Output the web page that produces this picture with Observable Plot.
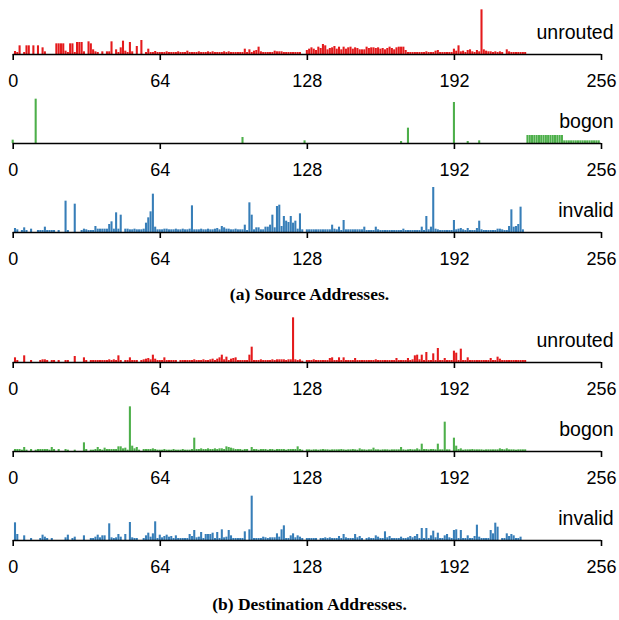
<!DOCTYPE html>
<html>
<head>
<meta charset="utf-8">
<script src="https://cdn.jsdelivr.net/npm/d3@7"></script>
<script src="https://cdn.jsdelivr.net/npm/@observablehq/plot@0.6"></script>
<style>
  html, body { margin: 0; padding: 0; background: #fff; }
  #root { position: relative; width: 619px; height: 620px; overflow: hidden; }
  .panel { position: absolute; left: 0; }
  .caption { position: absolute; left: 0; width: 619px; text-align: center;
    font-family: "Liberation Serif", "DejaVu Serif", serif; font-weight: bold; font-size: 17.5px; color: #000; }
</style>
</head>
<body>
<div id="root"></div>
<script>
// Tick labels for the /8 address space axis
const tickValues = [0, 64, 128, 192, 256];
const seriesColors = { unrouted: "#e41a1c", bogon: "#4daf4a", invalid: "#377eb8" };
const captions = ["(a) Source Addresses.", "(b) Destination Addresses."];

// Relative packet counts per /8 prefix (index = first octet)
const srcUnrouted = [
  0,9,6,26,0,6,26,26,0,26,0,26,0,20,8,0,
  0,0,0,32,32,32,32,10,6,32,32,6,36,36,36,8,
  0,38,32,14,8,6,0,8,0,8,8,38,0,14,6,20,
  40,10,6,36,8,0,24,0,42,0,6,16,6,6,9,6,
  6,6,6,8,6,6,6,6,8,6,6,6,10,6,6,6,
  6,8,6,6,6,8,6,8,6,6,6,6,8,6,8,6,
  6,6,6,6,6,16,6,14,6,10,12,22,8,6,6,6,
  6,6,10,8,8,8,6,6,6,6,6,6,6,6,0,0,
  12,16,20,16,12,22,18,30,26,14,18,20,24,16,22,14,
  22,16,20,22,16,20,18,14,14,14,22,18,20,20,18,20,
  16,18,14,18,22,18,14,20,22,22,22,12,6,6,6,6,
  6,6,6,6,8,6,6,6,10,12,6,6,6,6,6,6,
  16,10,26,8,10,6,12,14,8,6,12,8,134,14,10,8,
  8,6,8,6,8,6,0,14,8,6,6,6,6,6,6,6
];
const srcBogon = [
  10,0,0,0,0,0,0,0,0,0,133,0,0,0,0,0,
  0,0,0,0,0,0,0,0,0,0,0,0,0,0,0,0,
  0,0,0,0,0,0,0,0,0,0,0,0,0,0,0,0,
  0,0,0,0,0,0,0,0,0,0,0,0,0,0,0,0,
  0,0,0,0,0,0,0,0,0,0,0,0,0,0,0,0,
  0,0,0,0,0,0,0,0,0,0,0,0,0,0,0,0,
  0,0,0,0,18,0,0,0,0,0,0,0,0,0,0,0,
  0,0,0,0,0,0,0,0,0,0,0,0,0,0,0,8,
  0,0,0,0,0,0,0,0,0,0,0,0,0,0,0,0,
  0,0,0,0,0,0,0,0,0,0,0,0,0,0,0,0,
  0,0,0,0,0,0,0,0,0,6,0,0,46,0,0,0,
  0,0,0,0,0,0,0,0,0,0,0,0,0,0,0,0,
  123,0,0,0,0,0,6,0,0,0,0,8,0,0,0,0,
  0,0,0,0,0,0,0,0,0,0,0,0,0,0,0,0,
  24,24,24,24,24,24,24,24,24,24,24,24,24,24,24,24,
  8,8,8,8,8,8,8,8,8,8,8,8,8,8,8,8
];
const srcInvalid = [
  0,12,8,0,6,14,6,0,10,0,0,6,6,6,16,6,
  6,6,6,0,6,0,0,94,6,0,0,85,0,0,6,10,
  8,6,6,6,18,10,10,10,10,10,24,32,10,59,10,52,
  0,10,10,8,8,10,8,8,8,10,28,44,62,115,16,8,
  8,8,10,10,8,8,8,10,8,8,10,8,8,10,80,8,
  8,8,10,8,8,10,8,8,10,12,8,18,14,10,10,8,
  8,10,8,8,8,22,6,89,52,8,14,14,8,8,16,16,
  22,52,14,78,82,18,48,34,30,48,28,34,10,56,8,0,
  8,8,8,8,8,8,8,8,8,8,8,22,10,8,16,6,
  36,8,8,8,8,8,8,8,8,16,6,6,6,6,16,8,
  6,6,6,6,6,6,6,6,6,6,10,6,6,6,6,6,
  6,6,16,6,48,8,16,135,10,8,6,6,6,6,6,6,
  36,8,10,12,8,6,12,6,6,6,12,34,8,6,6,6,
  6,6,6,10,10,8,6,6,18,68,16,18,24,76,8,0
];
const dstUnrouted = [
  0,14,6,0,0,20,0,0,6,0,0,0,6,8,8,6,
  0,6,6,0,6,0,0,6,6,0,0,18,0,0,0,14,
  6,0,6,6,6,6,6,6,6,6,8,6,8,6,20,6,
  0,6,6,14,6,6,6,0,6,8,10,12,8,22,10,6,
  6,6,14,6,6,6,6,6,0,6,6,6,6,6,6,8,
  6,6,6,8,6,6,8,10,6,10,14,22,8,16,6,10,
  12,14,6,6,6,6,6,22,46,6,6,6,8,6,6,6,
  6,8,6,8,8,8,8,6,8,8,134,8,6,8,4,0,
  6,6,6,8,6,6,6,6,6,6,12,14,6,6,14,6,
  14,6,6,6,6,12,6,6,6,6,6,6,6,6,8,6,
  6,6,6,6,6,6,6,12,6,6,6,6,12,6,8,20,
  22,8,22,6,30,6,6,26,6,42,6,6,12,6,6,6,
  34,28,6,40,6,6,14,6,6,6,6,6,6,6,6,6,
  12,6,6,16,10,6,6,6,6,6,6,6,6,6,6,6
];
const dstBogon = [
  0,6,6,6,4,12,4,0,6,0,4,6,6,6,6,6,
  4,12,6,0,6,0,0,6,4,0,0,4,0,0,0,26,
  6,0,4,4,6,12,6,4,10,6,6,6,6,6,14,14,
  8,10,4,134,16,8,12,4,0,6,6,6,6,8,6,4,
  4,4,6,4,4,4,6,4,4,4,6,4,4,4,6,40,
  6,6,8,6,6,8,6,6,8,6,8,8,6,14,12,10,
  8,6,6,6,4,6,6,0,12,6,6,4,6,6,6,4,
  6,6,4,6,6,6,6,4,6,6,6,6,14,6,4,0,
  5,5,4,5,5,4,5,6,5,5,4,5,5,5,5,6,
  5,4,5,5,6,5,4,8,5,5,4,5,5,10,5,5,
  4,5,5,5,4,5,5,5,5,12,5,4,5,6,5,5,
  8,5,22,6,6,5,6,6,5,22,5,5,88,5,5,0,
  40,16,6,8,4,5,5,5,6,5,5,5,5,4,5,5,
  5,5,5,5,8,6,5,8,5,5,5,4,5,5,5,5
];
const dstInvalid = [
  0,53,18,0,0,14,0,0,6,0,0,0,6,16,10,6,
  0,6,0,0,0,0,0,8,16,0,6,10,0,0,0,14,
  0,0,6,6,10,16,8,14,14,0,50,8,6,8,18,10,
  0,18,0,54,8,6,6,0,0,6,14,22,10,20,56,6,
  16,8,12,16,10,12,6,14,6,6,6,6,6,18,12,30,
  8,10,24,6,18,18,18,22,6,24,6,32,8,10,30,14,
  6,6,6,6,6,26,0,32,133,6,6,6,6,10,8,6,
  8,8,8,20,10,32,44,6,6,14,20,8,14,10,6,0,
  6,6,6,6,6,0,6,6,8,6,8,6,6,6,12,6,
  18,8,6,6,6,18,8,12,6,0,6,8,6,6,14,10,
  6,6,26,8,12,6,6,6,6,10,6,6,8,12,8,12,
  18,6,36,6,36,6,14,28,8,22,6,6,14,18,8,6,
  30,32,6,30,6,6,14,6,6,12,46,10,6,6,6,6,
  30,20,52,40,0,6,6,20,12,18,14,6,6,10,0,0
];

const panels = [
  { name: "unrouted", values: srcUnrouted, top: 0 },
  { name: "bogon",    values: srcBogon,    top: 89 },
  { name: "invalid",  values: srcInvalid,  top: 178 },
  { name: "unrouted", values: dstUnrouted, top: 308 },
  { name: "bogon",    values: dstBogon,    top: 397 },
  { name: "invalid",  values: dstInvalid,  top: 486 }
];
const captionTops = [284, 594];

const root = document.getElementById("root");
const sans = "'Liberation Sans', Arial, Helvetica, sans-serif";

for (const p of panels) {
  const data = p.values.map((v, i) => ({ i, v })).filter(d => d.v > 0);
  const chart = Plot.plot({
    width: 619, height: 92,
    marginLeft: 12.7, marginRight: 18, marginTop: 9, marginBottom: 38,
    style: { fontFamily: sans, fontSize: "18px", color: "#000", background: "transparent", overflow: "visible" },
    x: { domain: [0, 256], axis: null },
    y: { domain: [0, 135], axis: null },
    marks: [
      Plot.rectY(data, { x1: d => d.i - 0.45, x2: d => d.i + 0.45, y: "v", fill: seriesColors[p.name] }),
      Plot.ruleY([0], { stroke: "#000", strokeWidth: 1.6 }),
      Plot.axisX({ ticks: tickValues, tickSize: 6, tickPadding: 14, tickFormat: d => String(d), stroke: "#000", strokeWidth: 1.6, fontSize: 18, fill: "#000" }),
      Plot.text([p.name], { frameAnchor: "top-right", textAnchor: "end", lineAnchor: "middle", dx: 12, dy: 23, fontSize: 19.5, fill: "#000" })
    ]
  });
  chart.classList.add("panel");
  chart.style.top = p.top + "px";
  root.appendChild(chart);
}
captions.forEach((c, k) => {
  const div = document.createElement("div");
  div.className = "caption";
  div.style.top = captionTops[k] + "px";
  div.textContent = c;
  root.appendChild(div);
});
</script>
</body>
</html>
